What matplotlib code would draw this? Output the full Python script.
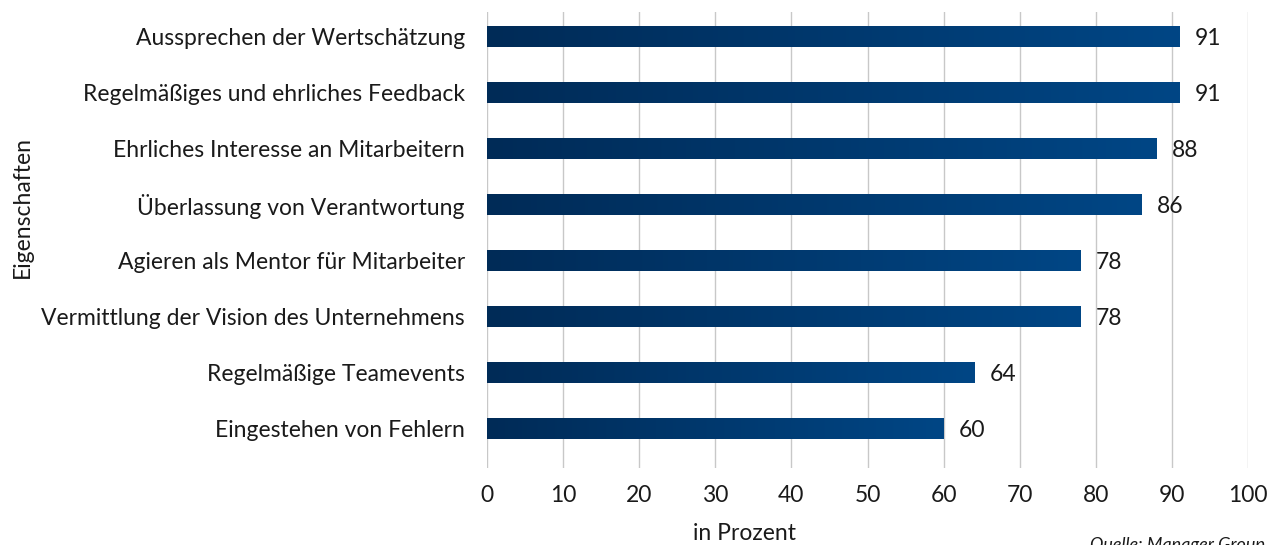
import matplotlib
matplotlib.use("Agg")
import matplotlib.pyplot as plt
import numpy as np
from matplotlib.colors import LinearSegmentedColormap

categories = [
    "Aussprechen der Wertschätzung",
    "Regelmäßiges und ehrliches Feedback",
    "Ehrliches Interesse an Mitarbeitern",
    "Überlassung von Verantwortung",
    "Agieren als Mentor für Mitarbeiter",
    "Vermittlung der Vision des Unternehmens",
    "Regelmäßige Teamevents",
    "Eingestehen von Fehlern",
]
values = [91, 91, 88, 86, 78, 78, 64, 60]
xticks = [0, 10, 20, 30, 40, 50, 60, 70, 80, 90, 100]

plt.rcParams['font.family'] = ['Lato', 'DejaVu Sans']
plt.rcParams['font.weight'] = 'normal'

FS = 16.5
TXT = '#1a1a1a'

fig = plt.figure(figsize=(12.7, 5.45), dpi=100)
ax = fig.add_axes([487/1270, 1-468/545, (1248-487)/1270, (468-12)/545])

y = np.arange(len(categories))
bars = ax.barh(y, values, height=0.375, color='#00356b', zorder=2)

cmap = LinearSegmentedColormap.from_list('g', ['#002b57', '#004685'])
grad = np.linspace(0, 1, 256).reshape(1, -1)
for b in bars:
    x0, y0 = b.get_x(), b.get_y()
    w, h = b.get_width(), b.get_height()
    im = ax.imshow(grad, cmap=cmap, aspect='auto', extent=[x0, x0 + w, y0 + h, y0],
                   zorder=3, interpolation='bilinear')
    im.set_clip_path(b)

for yi, v in zip(y, values):
    ax.text(v + 2.0, yi, str(v), va='center_baseline', ha='left', fontsize=FS, color=TXT, zorder=4)

ax.set_xlim(0, 100)
ax.set_ylim(7.71, -0.43)
ax.set_xticks(xticks)
ax.set_xticklabels([str(t) for t in xticks], fontsize=FS, color=TXT)
ax.set_yticks(y)
ax.set_yticklabels(categories, fontsize=FS, color=TXT, va='center_baseline')
ax.tick_params(axis='y', length=0, pad=16)
ax.tick_params(axis='x', length=0, pad=12)
ax.grid(axis='x', color='#c8c8c8', linewidth=1, zorder=0)
ax.set_axisbelow(True)
for s in ax.spines.values():
    s.set_visible(False)

fig.text(744/1270, 1-533/545, 'in Prozent', va='center', ha='center', fontsize=FS, color=TXT)
fig.text(22/1270, 1-207/545, 'Eigenschaften', rotation=90, va='center', ha='center',
         fontsize=FS, color=TXT)
fig.text(1090/1270, 1-537/545, 'Quelle: Manager Group', va='top', ha='left',
         fontsize=13, style='italic', color=TXT)

fig.savefig('out.png', dpi=100)
